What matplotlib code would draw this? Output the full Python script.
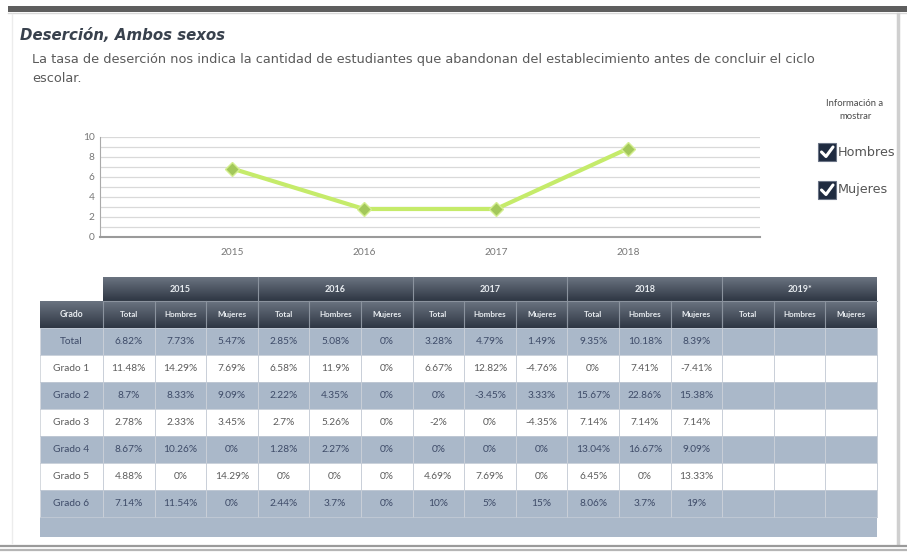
import numpy as np
from matplotlib import pyplot as plt
from matplotlib.patches import Rectangle

plt.rcParams['font.family'] = ['Lato', 'DejaVu Sans']

# line chart
years = ['2015', '2016', '2017', '2018']
desercion = [6.85, 2.8, 2.8, 8.85]

# table
year_groups = ['2015', '2016', '2017', '2018', '2019*']
sub_cols = ['Total', 'Hombres', 'Mujeres']
grados = ['Total', 'Grado 1', 'Grado 2', 'Grado 3', 'Grado 4', 'Grado 5', 'Grado 6']
tabla = [
    ['6.82%', '7.73%', '5.47%', '2.85%', '5.08%', '0%', '3.28%', '4.79%', '1.49%', '9.35%', '10.18%', '8.39%'],
    ['11.48%', '14.29%', '7.69%', '6.58%', '11.9%', '0%', '6.67%', '12.82%', '-4.76%', '0%', '7.41%', '-7.41%'],
    ['8.7%', '8.33%', '9.09%', '2.22%', '4.35%', '0%', '0%', '-3.45%', '3.33%', '15.67%', '22.86%', '15.38%'],
    ['2.78%', '2.33%', '3.45%', '2.7%', '5.26%', '0%', '-2%', '0%', '-4.35%', '7.14%', '7.14%', '7.14%'],
    ['8.67%', '10.26%', '0%', '1.28%', '2.27%', '0%', '0%', '0%', '0%', '13.04%', '16.67%', '9.09%'],
    ['4.88%', '0%', '14.29%', '0%', '0%', '0%', '4.69%', '7.69%', '0%', '6.45%', '0%', '13.33%'],
    ['7.14%', '11.54%', '0%', '2.44%', '3.7%', '0%', '10%', '5%', '15%', '8.06%', '3.7%', '19%'],
]

W, H = 907, 552
fig = plt.figure(figsize=(W / 100, H / 100), dpi=100)

# overlay axes in pixel coordinates
bg = fig.add_axes([0, 0, 1, 1])
bg.set_xlim(0, W)
bg.set_ylim(H, 0)
bg.axis('off')

# frame bits
bg.add_patch(Rectangle((8, 6), W - 8, 6, color='#5e5e5e', lw=0))
bg.plot([8, W], [13, 13], color='#d8d8d8', lw=1)
bg.plot([898, 898], [14, 543], color='#cfcfcf', lw=2.5)
bg.plot([12, 12], [14, 543], color='#ececec', lw=1)
bg.plot([0, W], [545.5, 545.5], color='#9a9a9a', lw=1.6)
bg.plot([0, W], [549.5, 549.5], color='#b5b5b5', lw=1.6)

bg.text(20, 36, 'Deserción, Ambos sexos', fontsize=10.8, fontweight='bold',
        fontstyle='italic', color='#38414d', va='center', family='DejaVu Sans')
bg.text(32, 60, 'La tasa de deserción nos indica la cantidad de estudiantes que abandonan '
        'del establecimiento antes de concluir el ciclo', fontsize=9.3, color='#5a5a5a',
        va='center', family='DejaVu Sans')
bg.text(32, 78, 'escolar.', fontsize=9.3, color='#5a5a5a', va='center', family='DejaVu Sans')

# legend / checkboxes
bg.text(855, 110, 'Información a\nmostrar', fontsize=6.8, color='#4a4a4a',
        ha='center', va='center', linespacing=1.5)
for cy, lab in [(152, 'Hombres'), (190, 'Mujeres')]:
    bg.add_patch(Rectangle((818, cy - 9), 18, 18, facecolor='#1f2b40', edgecolor='#6b7486', lw=0.8))
    bg.plot([821.5, 826, 833], [cy, cy + 4.5, cy - 5], color='white', lw=2.2,
            solid_capstyle='round', solid_joinstyle='round')
    bg.text(838, cy, lab, fontsize=9.2, color='#555555', va='center', family='DejaVu Sans')

# table geometry
x0_tab, x1_tab = 103, 877
col_w = (x1_tab - x0_tab) / 15
grado_x0 = 40
yr_top, yr_bot = 277, 301
sub_bot = 328
row_h = 27
blue = '#aab8c9'
header_grad = np.linspace(0.0, 1.0, 40).reshape(-1, 1)
cmap = plt.matplotlib.colors.LinearSegmentedColormap.from_list('hdr', ['#6a7380', '#2f3744'])

# year header row
bg.imshow(header_grad, cmap=cmap, aspect='auto', extent=(x0_tab, x1_tab, yr_bot, yr_top),
          interpolation='bilinear', zorder=1)
# sub-header row
bg.imshow(header_grad, cmap=cmap, aspect='auto', extent=(grado_x0, x1_tab, sub_bot, yr_bot),
          interpolation='bilinear', zorder=1)
bg.plot([x0_tab, x1_tab], [yr_bot, yr_bot], color='#8b939e', lw=0.8, zorder=2)

for g, yl in enumerate(year_groups):
    gx = x0_tab + g * 3 * col_w
    bg.text(gx + 1.5 * col_w, (yr_top + yr_bot) / 2, yl, fontsize=6.5, color='#e8ecf0',
            ha='center', va='center', fontweight='bold', zorder=3)
    if g > 0:
        bg.plot([gx, gx], [yr_top, sub_bot], color='#8b939e', lw=0.8, zorder=2)

bg.text((grado_x0 + x0_tab) / 2, (yr_bot + sub_bot) / 2, 'Grado', fontsize=6.2,
        color='#e8ecf0', ha='center', va='center', fontweight='bold', zorder=3)
for c in range(15):
    cx = x0_tab + c * col_w
    bg.plot([cx, cx], [yr_bot, sub_bot], color='#8b939e', lw=0.8, zorder=2)
    bg.text(cx + col_w / 2, (yr_bot + sub_bot) / 2, sub_cols[c % 3], fontsize=5.8,
            color='#e8ecf0', ha='center', va='center', fontweight='bold', zorder=3)

# data rows
n_rows = len(grados)
for r, grado in enumerate(grados):
    ry = sub_bot + r * row_h
    is_blue = r % 2 == 0
    fc = blue if is_blue else 'white'
    tc = '#3e4b68' if is_blue else '#5c5c5c'
    bg.add_patch(Rectangle((grado_x0, ry), x1_tab - grado_x0, row_h, facecolor=fc, lw=0, zorder=1))
    bg.text((grado_x0 + x0_tab) / 2, ry + row_h / 2, grado, fontsize=7.3, color=tc,
            ha='center', va='center', zorder=3)
    for c in range(15):
        val = tabla[r][c] if c < len(tabla[r]) else ''
        bg.text(x0_tab + c * col_w + col_w / 2, ry + row_h / 2, val, fontsize=7.3, color=tc,
                ha='center', va='center', zorder=3)

# empty bottom band
band_top = sub_bot + n_rows * row_h
bg.add_patch(Rectangle((grado_x0, band_top), x1_tab - grado_x0, 537 - band_top,
                       facecolor=blue, lw=0, zorder=1))

# cell borders
bottom_rows = sub_bot + n_rows * row_h
for c in range(16):
    cx = x0_tab + c * col_w
    bg.plot([cx, cx], [sub_bot, bottom_rows], color='#c9cfd8', lw=0.7, zorder=2)
bg.plot([grado_x0, grado_x0], [sub_bot, bottom_rows], color='#d5d9df', lw=0.7, zorder=2)
for r in range(n_rows + 1):
    ry = sub_bot + r * row_h
    bg.plot([grado_x0, x1_tab], [ry, ry], color='#c2cad5', lw=0.6, zorder=2)

# line chart
ax = fig.add_axes([100 / W, (H - 237) / H, 660 / W, 100 / H])
ax.set_facecolor('none')
xs = np.arange(len(years))
ax.plot(xs, desercion, color='#c5eb6a', lw=3, zorder=3)
ax.plot(xs, desercion, ls='none', marker='D', ms=7, color='#a3c85a',
        markeredgecolor='#d4ee90', markeredgewidth=1, zorder=4)
ax.set_xlim(-1, len(years))
ax.set_ylim(0, 10)
ax.set_yticks(range(0, 11, 2))
ax.set_yticks(range(0, 11), minor=True)
ax.set_xticks(xs)
ax.set_xticklabels(years)
ax.grid(axis='y', which='both', color='#d9d9d9', lw=0.9)
ax.set_axisbelow(True)
for s in ['top', 'right']:
    ax.spines[s].set_visible(False)
ax.spines['left'].set_color('#aaaaaa')
ax.spines['bottom'].set_color('#9a9a9a')
ax.spines['bottom'].set_linewidth(1.5)
ax.tick_params(axis='both', which='both', length=0, labelsize=7.3, labelcolor='#777777')
ax.tick_params(axis='x', pad=8)
ax.tick_params(axis='y', pad=4)

fig.savefig('out.png', dpi=100)
